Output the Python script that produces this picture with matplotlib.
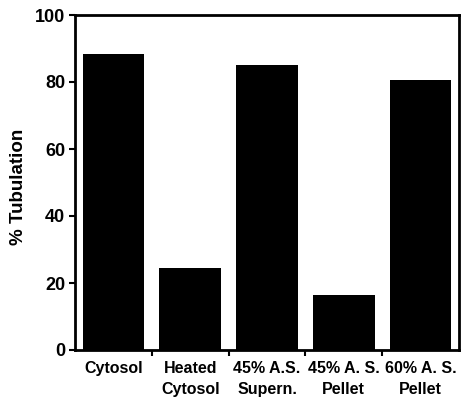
import matplotlib
matplotlib.use('Agg')
import matplotlib.pyplot as plt
import numpy as np

# dados
categorias = ['Cytosol', 'Heated\nCytosol', '45% A.S.\nSupern.', '45% A. S.\nPellet', '60% A. S.\nPellet']
tubulacao = [88.5, 24.5, 85, 16.5, 80.5]
yticks = [0, 20, 40, 60, 80, 100]

plt.rcParams['font.family'] = ['Liberation Sans', 'DejaVu Sans']
plt.rcParams['font.weight'] = 'bold'

fig = plt.figure(figsize=(4.66, 4.0), dpi=100)
ax = fig.add_axes([75 / 466, 1 - 350 / 400, 384 / 466, 335 / 400])

x = np.arange(len(categorias))
ax.bar(x, tubulacao, width=0.8, color='black')

ax.set_xlim(-0.5, len(categorias) - 0.5)
ax.set_ylim(0, 100)
ax.set_yticks(yticks)
ax.set_yticklabels([str(v) for v in yticks], fontsize=13, fontweight='bold')
ax.tick_params(axis='y', direction='out', length=4, width=1.5, pad=3)

# ticks nas divisoes, rotulos no centro
ax.set_xticks(x[:-1] + 0.5)
ax.set_xticklabels([])
ax.set_xticks(x, minor=True)
ax.set_xticklabels(categorias, minor=True, fontsize=11.5, fontweight='bold', linespacing=1.45)
ax.tick_params(axis='x', which='major', direction='out', length=4, width=1.5)
ax.tick_params(axis='x', which='minor', length=0, pad=8)

for s in ax.spines.values():
    s.set_linewidth(2)

ax.set_ylabel('% Tubulation', fontsize=13.5, fontweight='bold')
ax.yaxis.set_label_coords(-0.125, 0.487)

fig.savefig('out.png', dpi=100)
